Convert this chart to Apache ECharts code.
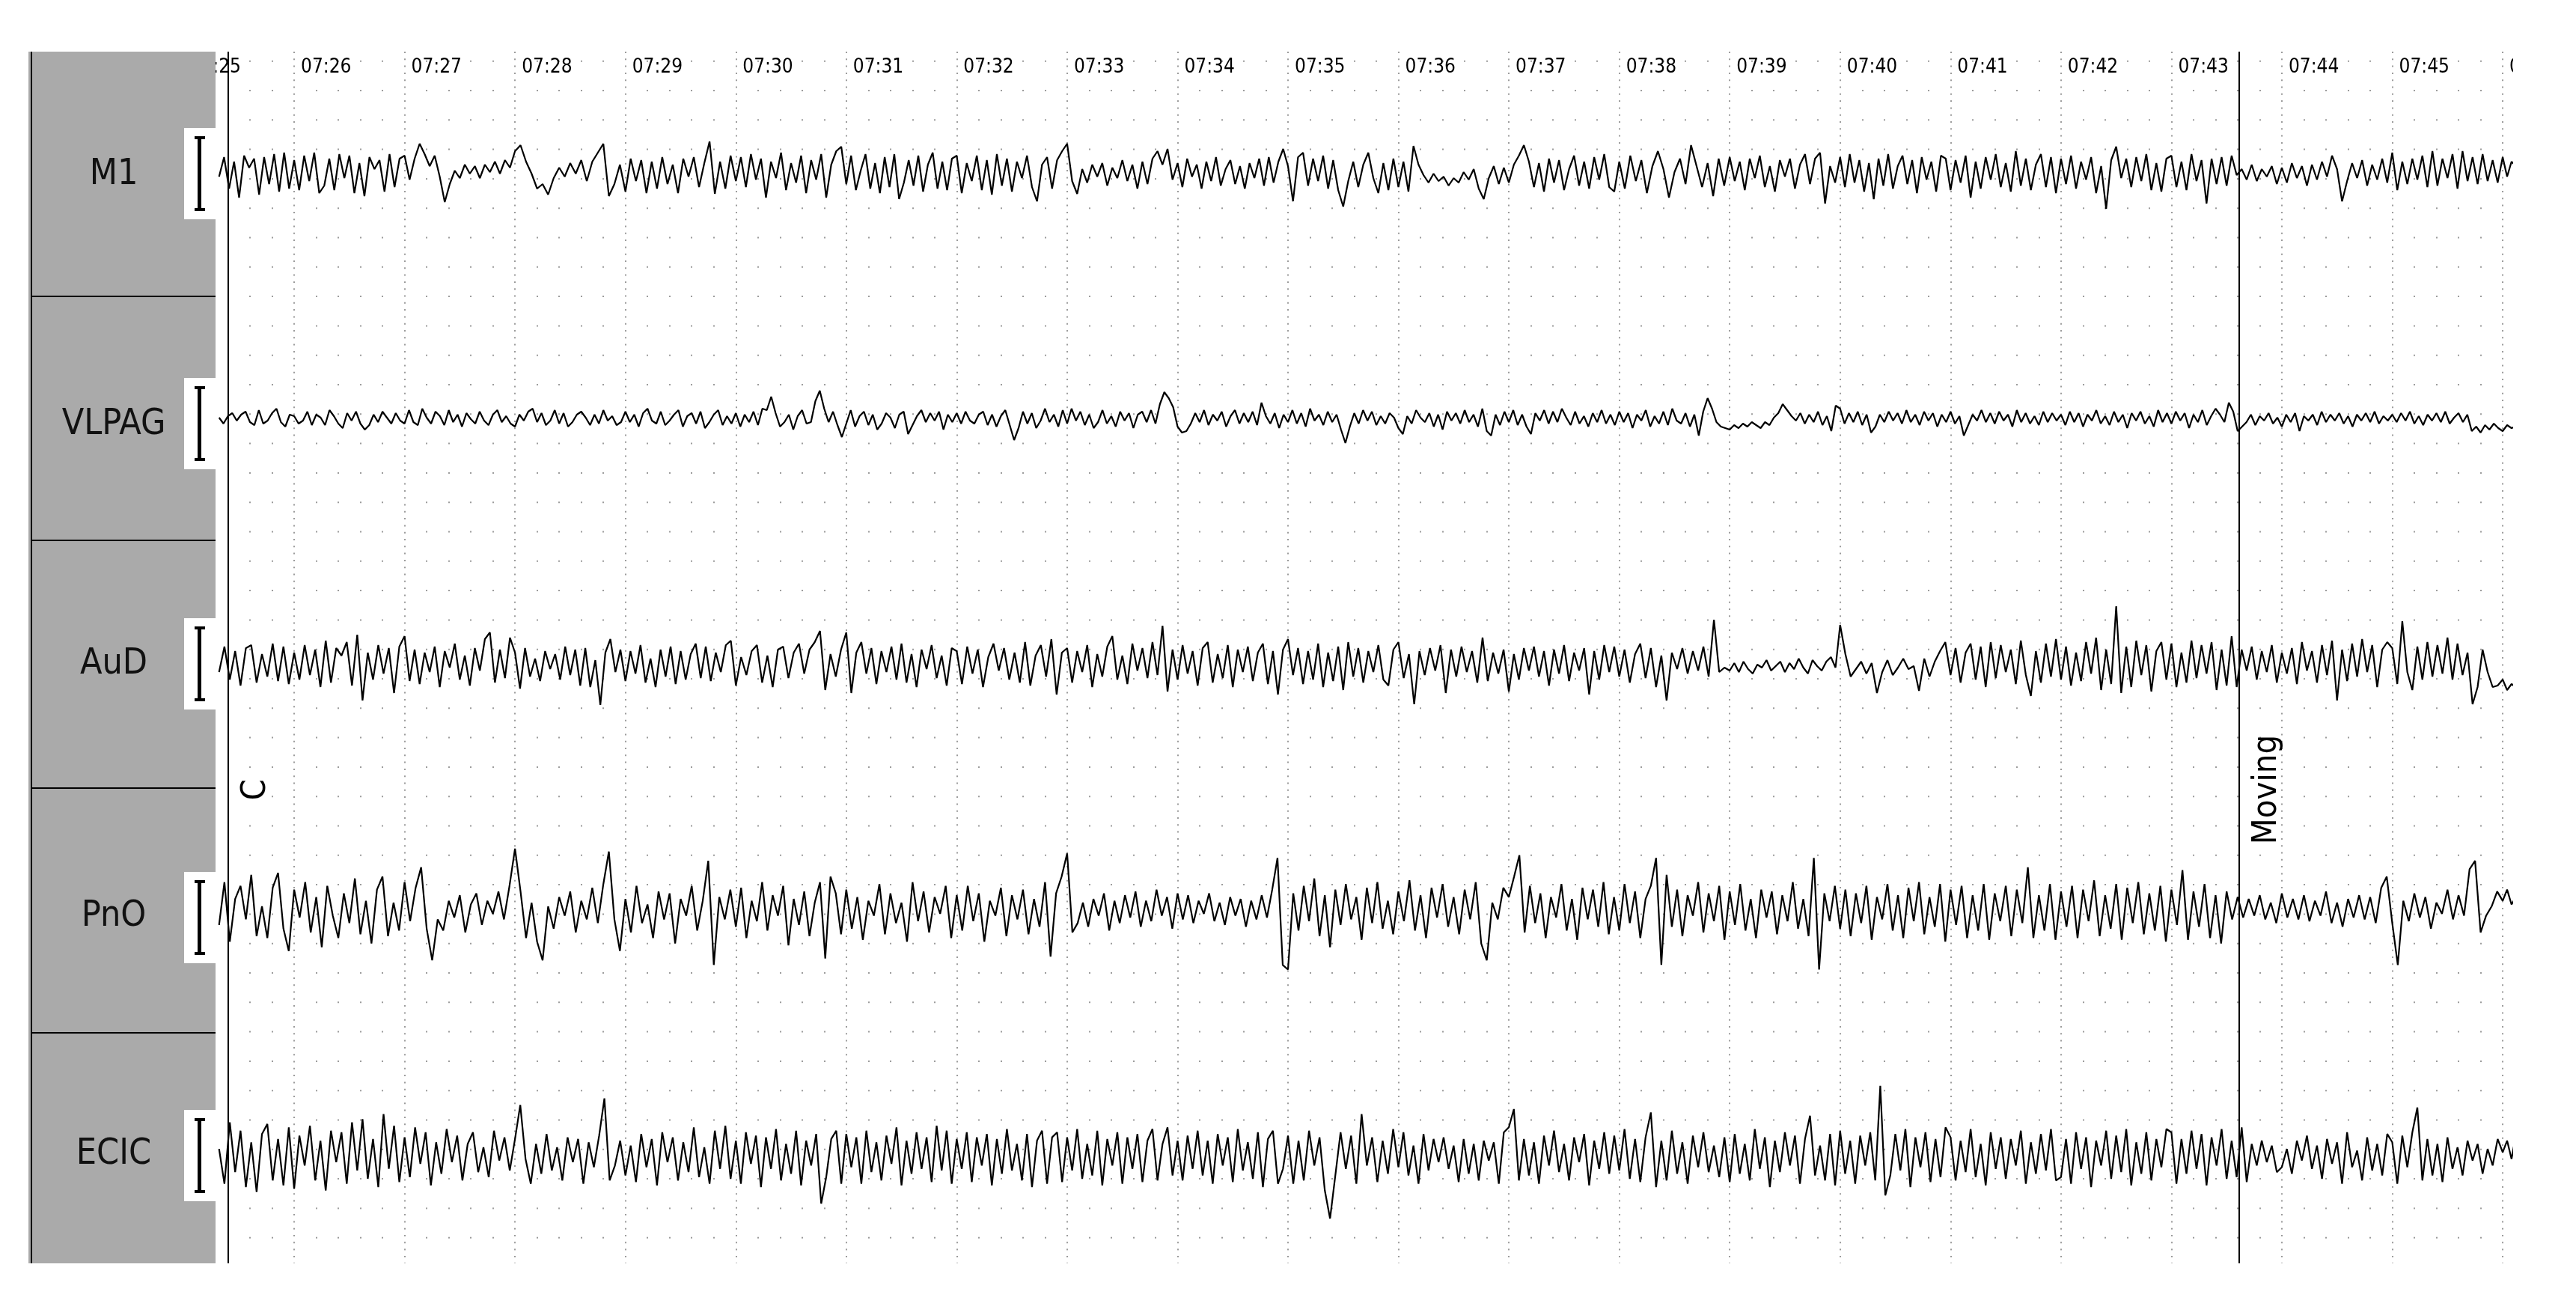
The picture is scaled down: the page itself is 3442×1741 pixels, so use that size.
<!DOCTYPE html>
<html>
<head>
<meta charset="utf-8">
<style>
html,body{margin:0;padding:0;background:#fff;overflow:hidden;}
#chart{width:3442px;height:1741px;}
</style>
<script src="https://cdn.jsdelivr.net/npm/echarts/dist/echarts.min.js"></script>
</head>
<body>
<div id="chart"></div>
<script>
// ---------------- data ----------------
const channelNames = ['M1', 'VLPAG', 'AuD', 'PnO', 'ECIC'];
const tickMinutes = [25,26,27,28,29,30,31,32,33,34,35,36,37,38,39,40,41,42,43,44,45,46];
const tickLabels = ['07:25','07:26','07:27','07:28','07:29','07:30','07:31','07:32','07:33','07:34','07:35',
  '07:36','07:37','07:38','07:39','07:40','07:41','07:42','07:43','07:44','07:45','07:46'];
const markerTimes = [25.403, 43.614];
const markerLabels = ['C', 'Moving'];
const traceStart = 25.32; // first sample time (minutes after 07:00)

// one row per minute (first row starts at 25.32), samples spread evenly over the minute
const m1Rows = [
[-4,22,-20,16,-32,24,8,20,-28,22,-14,26,-24,28,-20],
[18,-22,24,-10,28,-26,-16,20,-22,26,-6,24,-26,14,-30,22,6,18,-24,26,-18,20],
[24,-8,20,40,26,10,24,-4,-38,-14,4,-6,12,0,10,-6,12,2,16,0,18,8],
[30,38,16,0,-20,-14,-28,-6,8,-4,14,0,18,-10,16,28,40,-30,-14,12],
[-24,20,-10,18,-26,16,-20,22,-14,12,-26,20,-4,22,-18,14,43,-27,16,-20,24],
[-10,22,-18,26,-8,20,-32,16,-6,28,-22,14,-12,24,-26,18,-8,26,-32,12,30,36],
[-14,24,-22,4,26,-20,14,-26,22,-18,26,-34,-12,18,-16,24,-24,12,28,-20,16,-22,20],
[24,-26,14,-10,24,-22,18,-28,26,-16,20,-24,16,-6,24,-18,-37,12,22,-20,18,30],
[40,-10,-27,6,-12,12,-4,14,-16,8,-6,18,-10,12,-20,16,-14,20,30,12,33,-8],
[14,-18,20,-4,12,-20,16,-10,22,-16,6,18,-14,10,-20,14,-6,20,-16,22,-12,16,33],
[10,-37,22,28,-16,20,-10,24,-20,18,-22,-44,-10,16,-18,12,28,-6,-26,14,-22,20],
[-18,16,-24,37,12,-2,-12,0,-10,-4,-16,-6,-12,2,-8,6,-20,-34,-6,10,-14,8],
[-12,12,24,38,16,-18,14,-24,20,-12,18,-22,6,24,-16,16,-20,22,-8,26,-18,-24],
[16,-20,24,-10,18,-26,10,30,6,-32,2,20,-14,38,10,-18,14,-30,20,-16],
[22,-10,16,-22,20,-6,24,-18,10,-24,18,-4,20,-20,12,26,-14,20,28,-40,10,-12],
[22,-18,26,-12,18,-24,14,-34,20,-16,26,-20,10,24,-14,18,-26,22,-8,16,-24,24,20],
[-22,18,-12,24,-32,16,-20,22,-8,26,-18,14,-24,30,-16,20,-22,12,26,-18,22,-26],
[20,-14,24,-20,16,-8,22,-26,10,-47,18,36,-6,20,-18,22,-10,26,-22,14,-24,20],
[24,-18,16,-22,26,-10,18,-40,20,-14,22,-16,24,-2,6,-8,12,-10,6,-4,10,-14],
[8,-12,14,-6,10,-16,12,-8,16,-4,24,6,-37,-10,14,-6,18,-16,12,-8,20,-12],
[28,-22,16,-14,20,-8,24,-18,30,-16,20,-6,26,-20,30,-10,22,-14,26,-10,18,-12],
[22,-4,16,10]
];
const vlpagRows = [
[2,-6,4,8,-2,6,10,-4,-8,12,-6,-2,8,14,-4,-10,6],
[4,-6,-2,10,-8,6,2,-8,12,4,-6,-12,8,-2,10,-6,-14,-8,6,-4,10,2,-6,8,-2],
[-6,12,-4,-8,14,2,-6,10,4,-8,12,-4,6,-10,8,0,-6,10,-2,-8,6,12,-4,4,-6],
[-10,6,-2,10,14,-4,8,-8,-2,12,-6,8,-10,-4,6,10,2,-8,6,-6,12,-2,4,-8,-4],
[10,-4,6,-10,8,14,-2,-6,10,-8,-2,6,12,-10,4,8,-6,10,-12,-4,6,12,-8,4,-6],
[8,-10,6,-4,10,-8,14,12,30,8,-10,-4,6,-14,4,12,-6,-4,24,38,14,-4,10,-8,-24],
[-6,12,-10,4,10,-8,6,-14,-6,8,2,-12,6,10,-20,-8,4,12,-4,8,-2,10,-14,6,-4],
[8,-6,10,-2,-6,6,10,-8,6,-10,4,12,-8,-28,-12,10,-6,8,-12,-2,14,-4,6,-10,12],
[-6,14,-2,10,-8,6,-12,-4,12,-6,4,-10,10,-2,8,-12,6,10,-4,12,-6,20,36,28,16],
[-10,-18,-16,-6,8,-4,12,-8,6,-2,10,-10,4,12,-6,8,-4,10,-8,22,4,-6,8,-12,6],
[-4,12,-6,8,-10,14,-2,6,-8,10,-4,6,-14,-32,-10,8,-6,12,-2,10,-8,4,-6,8,2],
[-12,-20,4,-6,12,2,-4,8,-10,6,-14,10,-2,8,-6,12,-4,6,-10,14,-16,-22,6,-8,10],
[-4,12,-8,6,-10,-20,8,-2,12,-6,10,-4,14,2,-8,10,-6,4,-10,8,-4,12,-6,6,-8],
[10,-4,8,-12,6,-2,12,-10,4,-6,10,-8,14,-2,-6,8,-10,6,-22,10,28,14,-4,-10,-12],
[-14,-8,-12,-6,-10,-4,-8,-12,-4,-8,2,8,20,12,4,-2,8,-6,6,-4,10,-8,4,-16,18],
[14,-6,8,-4,10,-8,6,-18,-10,6,-4,10,-2,8,-6,12,-4,6,-8,10,-2,8,-10,6,-4],
[10,-6,4,-22,-8,6,-2,12,-4,8,-6,10,-2,6,-10,12,-4,8,-6,4,-8,10,-4,8,-2],
[6,-8,10,-4,8,-10,6,-2,12,-6,4,-8,10,-4,6,-12,8,-2,10,-6,4,-10,12,-4,8],
[-6,10,-2,8,-12,6,-4,12,-8,4,14,6,-4,22,10,-16,-10,-4,6,-8,4,-2,8,-6,2],
[-10,6,-4,8,-16,4,-2,6,-8,10,-4,6,-2,8,-6,4,-10,6,-2,8,-4,10,-6,4,-2],
[6,-4,8,-2,10,-6,4,-8,6,-2,8,-4,10,-6,2,8,-4,6,-16,-10,-18,-8,-14,-6,-12],
[-16,-8,-12,-10]
];
const audRows = [
[-10,24,-20,18,-28,22,26,-24,14,-16,28,-22,24,-26],
[16,-20,26,-14,20,-30,32,-24,22,12,30,-28,40,-48,16,-20,26,-12,22,-38,24],
[38,-22,20,-26,16,-10,24,-30,18,-4,28,-20,12,-28,22,-8,34,43,-24,20,-18,36],
[16,-32,22,-16,8,-22,18,-6,14,-20,24,-14,20,-28,22,-30,6,-54,16,34,-10,20],
[-22,18,-12,26,-24,8,-30,20,-16,24,-26,18,-20,14,28,-18,24,-22,16,-10,26,32],
[-28,10,-14,18,26,-24,12,-30,20,24,-18,16,28,-12,20,30,45,-34,14,-16,20],
[43,-38,16,30,-12,22,-26,18,-10,24,-20,28,-24,14,-30,20,-6,26,-18,12,-28,22],
[18,-26,24,-12,20,-30,10,28,-8,22,-20,16,-24,30,-28,12,26,-16,34,-40,16],
[22,-24,18,-10,26,-30,14,-16,24,38,-20,12,-26,28,-8,22,-18,30,-14,52,-36,20],
[-20,26,-12,18,-28,22,30,-24,14,-18,26,-30,20,-10,24,-22,16,28,-26,18,-40,20],
[34,-14,22,-26,18,-20,28,-30,16,-22,24,-34,30,-16,22,-24,18,-10,26,-20,-28,20],
[30,-18,14,-53,18,-14,22,-8,26,-38,20,-16,24,-10,18,-24,36,-22,16,-12,20],
[-36,14,-20,22,-8,24,-16,18,-28,20,-12,26,-22,16,-8,22,-40,18,-20,26,-10,24],
[-16,20,-24,14,28,-18,22,-30,12,-48,16,-6,22,-12,18,-8,24,-16,60,-10,-4],
[-8,2,-10,4,-6,-12,0,-4,6,-8,-2,4,-10,2,-6,8,-4,-12,6,-2,-8,4,10,-4],
[53,14,-16,-6,4,-12,2,-38,-10,6,-14,-4,8,-6,-2,-35,8,-16,4,18,30],
[-14,22,-24,16,28,-20,24,-30,30,-18,26,-10,20,-26,32,-14,-42,18,-24,28,-16,34],
[-20,24,-28,16,-22,30,-12,36,-34,20,-26,78,-38,24,-30,32,-14,26,-36,18,30,-20],
[28,-30,16,-24,32,-18,26,-12,30,-34,20,-28,38,-30,20,-8,24,-20,18,-10,26,-24],
[16,-12,22,-26,30,-8,18,-24,26,-14,32,-48,20,-22,28,-16,34,-10,26,-30,20,30],
[22,-26,58,-10,-34,24,-20,30,-16,26,-12,36,-20,28,-14,16,-53,-30,20,-10,-30,-28],
[-20,-34,-26,-30]
];
const pnoRows = [
[-16,30,-34,12,26,-10,38,-28,4,-30,24,40,-20,-44],
[22,-8,30,-24,14,-40,26,-6,-30,18,-14,34,-26,10,-36,22,36,-28,8,-22],
[30,-12,24,46,-20,-54,-10,-22,10,-8,16,-24,6,18,-16,10,-4,20,-10,26],
[66,20,-30,8,-34,-54,4,-20,14,-6,20,-24,10,-10,24,-14,28,63,-10,-44],
[12,-24,26,-14,6,-30,20,-10,18,-36,12,-6,26,-22,10,53,-59,14,-10,22],
[-18,24,-30,10,-12,30,-22,16,-6,26,-38,12,-16,20,-28,8,30,-52,36,18,-26],
[22,-20,14,-32,10,-6,28,-26,18,-14,8,-34,30,-12,20,-24,14,-4,26,-30],
[16,-22,26,-12,18,-34,10,-6,24,-28,16,-10,22,-26,12,-18,30,-50,18,36],
[61,-24,-14,8,-18,12,-6,18,-22,10,-14,16,-8,20,-18,10,-12,22,-6,14,-20],
[18,-10,16,-14,10,-4,18,-12,8,-16,14,-6,12,-18,10,-10,16,-8,22,56,-59],
[-64,18,-22,26,-12,34,-28,16,-40,22,-16,28,-10,14,-32,24,-14,30,-20,10,-26],
[20,-12,32,-22,16,-30,24,-8,28,-18,14,-26,22,-10,30,-36,-54,8,-10,24],
[14,36,59,-24,26,-14,18,-30,14,-8,28,-22,12,-32,24,-10,22,-18,30,-26,14],
[-22,28,-14,20,-30,12,26,56,-59,38,-18,22,-28,16,-6,30,-24,18,-12,26,-32],
[20,-16,28,-22,12,-30,22,-8,20,-26,16,-12,30,-20,12,-28,56,-64,18,-12,26],
[-20,22,-28,18,-14,26,-32,14,-10,28,-22,16,-30,24,-12,30,-26,14,-18,28,-34],
[22,-16,26,-30,16,-22,28,-32,18,-12,26,-28,22,-14,46,-30,16,-22,28,-32],
[20,-18,26,-30,22,-12,32,-28,16,-20,28,-32,24,-14,30,-26,18,-22,26,-34],
[22,-16,43,-32,20,-18,28,-30,16,-36,20,-10,14,-8,12,-6,16,-10,8,-14],
[18,-8,12,-10,16,-12,10,-6,20,-14,8,-18,12,-8,16,-10,14,-14,24,36],
[-14,-59,10,-12,18,-8,14,-20,8,-4,22,-10,16,-6,44,53,-24,-6,4,20],
[10,22,6,14]
];
const ecicRows = [
[8,-34,40,-20,30,-38,16,-44,26,38,-30,20,-36,34],
[-40,24,-12,36,-30,18,-42,30,-8,28,-34,40,-18,44,-28,20,-38,50,-16,36,-32],
[22,-26,34,-10,28,-36,16,-22,32,-8,24,-30,14,28,-20,10,-26,30,-6,22,-18],
[20,61,-4,-34,14,-22,26,-18,10,-30,22,-8,20,-34,16,-14,24,69,-30,-12,18],
[-24,12,-32,26,-14,20,-36,28,-8,22,-30,16,-20,34,-26,10,-34,30,-16,36,-28],
[18,-34,28,-10,24,-38,22,-16,32,-30,14,-22,30,-36,18,-12,26,-58,-26,20,30,-34],
[26,-14,22,-34,30,-20,16,-30,24,-10,34,-36,18,-22,28,-16,22,-32,36,-18,30,-34],
[20,-16,28,-32,22,-12,26,-36,20,-22,32,-18,14,-30,26,-38,18,30,-34,22,28,-32],
[22,-18,32,-28,14,-24,30,-36,20,-12,28,-34,22,-16,26,-32,18,32,-30,14,34,-24],
[18,-30,24,-16,30,-24,18,-34,26,-12,22,-32,32,-18,16,-28,28,-38,20,30,-34,-16],
[24,-34,18,-30,30,-12,22,-42,-76,-24,28,-16,24,-34,50,-12,22,-32,18,-22,32],
[-14,28,-24,12,-34,26,-18,20,-8,22,-16,12,-32,20,-22,14,-30,18,-6,16,-34,28],
[34,56,-30,20,-24,16,-34,24,-12,30,-20,14,-30,22,-8,26,-36,18,-16,28,-22,24],
[-18,32,-28,20,-32,22,52,-38,18,-30,30,-22,16,-34,24,-14,28,-20,12,-26,22],
[-32,26,-22,14,-30,32,-16,22,-38,18,-20,28,-12,24,-34,20,48,-24,12,-30,26,-36],
[30,-22,18,-34,24,-12,28,-30,84,-48,-24,26,-18,32,-38,22,-14,28,-32,20,-26,34],
[22,-30,18,-20,32,-26,14,-36,28,-16,22,-28,20,-12,30,-34,16,-22,26,-18,32,-30],
[-26,20,-34,28,-16,22,-38,18,-12,30,-28,24,-20,32,-36,16,-22,28,-30,20,-14,32],
[28,-34,20,-22,30,-16,26,-36,22,-12,32,-28,18,-26,34,-32,14,-12,18,-8,12,-20],
[-14,8,-22,18,-6,24,-16,12,-28,20,-10,16,-34,28,-14,6,-30,22,-18,14,-24,26],
[16,-34,24,-14,28,58,-30,20,-24,14,-32,22,-16,10,-24,18,-6,14,-22,8,-12,20],
[4,18,-4,24]
];
const channelRows = [m1Rows, vlpagRows, audRows, pnoRows, ecicRows];
// per-channel display range (half span of each channel's value axis)
const channelHalfRange = [164, 164, 164, 132, 148];

// ---------------- layout ----------------
const PLOT_TOP = 69, PLOT_BOTTOM = 1688, AXIS_LEFT = 245.5, PX_PER_MIN = 147.55;
const X_MIN = 25, X_MAX = 47;
const PLOT_H = PLOT_BOTTOM - PLOT_TOP;
const CH_TOP0 = 68, CH_H = 328;
const RIGHT_EDGE = 3358;
const labelCenters = [234, 568, 888, 1225, 1543];
const boxCenters = [232, 566, 887, 1226, 1544];
const separators = [396, 722, 1053, 1380];
const FONT = '"DejaVu Sans Condensed", "DejaVu Sans", sans-serif';

function toSeries(rows) {
  const out = [];
  rows.forEach((row, r) => {
    const m = X_MIN + r;
    const isFirst = r === 0, isLast = r === rows.length - 1;
    const start = isFirst ? traceStart : m;
    const step = isLast ? 0.04 : (m + 1 - start) / row.length;
    row.forEach((v, j) => out.push([start + j * step, v]));
  });
  return out;
}

const grids = [{left: AXIS_LEFT, top: PLOT_TOP, width: PX_PER_MIN * (X_MAX - X_MIN), height: PLOT_H, outerBoundsMode: 'none'}];
const xAxes = [{
  type: 'value', gridIndex: 0, min: X_MIN, max: X_MAX, interval: 1,
  axisLine: {show: false}, axisTick: {show: false}, axisLabel: {show: false},
  splitLine: {show: true, lineStyle: {color: '#9c9c9c', width: 2, type: [2, 7.3]}},
  minorTick: {show: false, splitNumber: 5},
  minorSplitLine: {show: true, lineStyle: {color: '#9c9c9c', width: 2, type: [2, 37.3], dashOffset: 27.6}}
}];
const yAxes = [{type: 'value', gridIndex: 0, min: 0, max: PLOT_H, inverse: true, show: false, splitLine: {show: false}}];
const series = [];

channelNames.forEach((name, k) => {
  grids.push({left: AXIS_LEFT, top: CH_TOP0 + CH_H * k, width: PX_PER_MIN * (X_MAX - X_MIN), height: CH_H, outerBoundsMode: 'none'});
  xAxes.push({type: 'value', gridIndex: k + 1, min: X_MIN, max: X_MAX, show: false, splitLine: {show: false}});
  yAxes.push({type: 'value', gridIndex: k + 1, min: -channelHalfRange[k], max: channelHalfRange[k], show: false, splitLine: {show: false}});
  series.push({
    type: 'line', name: name, xAxisIndex: k + 1, yAxisIndex: k + 1,
    data: toSeries(channelRows[k]), showSymbol: false, symbol: 'none', silent: true,
    lineStyle: {color: '#000', width: 2.2}, clip: true, z: 5
  });
});

// time labels at top of plot
series.push({
  type: 'custom', xAxisIndex: 0, yAxisIndex: 0, clip: true, silent: true, z: 6,
  data: tickMinutes.map(m => [m, 0]),
  renderItem: function (params, api) {
    const p = api.coord([api.value(0), 21]);
    return {
      type: 'text', x: p[0] + 9, y: p[1],
      style: {text: tickLabels[params.dataIndex], fill: '#000', font: '26px ' + FONT, align: 'left', verticalAlign: 'middle'}
    };
  }
});
// event markers
series.push({
  type: 'custom', xAxisIndex: 0, yAxisIndex: 0, clip: true, silent: true, z: 7,
  data: markerTimes.map(t => [t, 0]),
  renderItem: function (params, api) {
    const t = api.value(0);
    const a = api.coord([t, 0]), b = api.coord([t, PLOT_H]);
    const mid = api.coord([t, 986]);
    return {
      type: 'group', children: [
        {type: 'line', shape: {x1: a[0], y1: a[1], x2: b[0], y2: b[1]}, style: {stroke: '#000', lineWidth: 2}},
        {type: 'text', x: a[0] + 15, y: mid[1], rotation: Math.PI / 2,
         style: {text: markerLabels[params.dataIndex], fill: '#000', font: '45px ' + FONT, align: 'center', verticalAlign: 'top'}}
      ]
    };
  }
});

// left label panel
const graphics = [];
graphics.push({type: 'rect', z: 100, shape: {x: 38, y: PLOT_TOP, width: 250, height: PLOT_H}, style: {fill: '#aaaaaa'}});
graphics.push({type: 'rect', z: 101, shape: {x: 41, y: PLOT_TOP, width: 2, height: PLOT_H}, style: {fill: '#000'}});
separators.forEach(y => graphics.push({type: 'rect', z: 101, shape: {x: 41, y: y - 1, width: 247, height: 2}, style: {fill: '#000'}}));
channelNames.forEach((name, k) => {
  graphics.push({type: 'text', z: 102, x: 152, y: labelCenters[k],
    style: {text: name, fill: '#111', font: '48px ' + FONT, align: 'center', verticalAlign: 'middle'}});
  const cy = boxCenters[k];
  graphics.push({type: 'rect', z: 101, shape: {x: 246, y: cy - 61, width: 42, height: 122}, style: {fill: '#fff'}});
  graphics.push({type: 'rect', z: 102, shape: {x: 264, y: cy - 50, width: 5, height: 100}, style: {fill: '#000'}});
  graphics.push({type: 'rect', z: 102, shape: {x: 260, y: cy - 50, width: 14, height: 4}, style: {fill: '#000'}});
  graphics.push({type: 'rect', z: 102, shape: {x: 260, y: cy + 46, width: 14, height: 4}, style: {fill: '#000'}});
});
// right edge of the visible page
graphics.push({type: 'rect', z: 100, shape: {x: RIGHT_EDGE, y: 0, width: 200, height: 1741}, style: {fill: '#fff'}});

const chart = echarts.init(document.getElementById('chart'), null, {renderer: 'canvas'});
chart.setOption({
  backgroundColor: '#fff',
  animation: false,
  grid: grids, xAxis: xAxes, yAxis: yAxes,
  series: series,
  graphic: {elements: graphics}
});
</script>
</body>
</html>
